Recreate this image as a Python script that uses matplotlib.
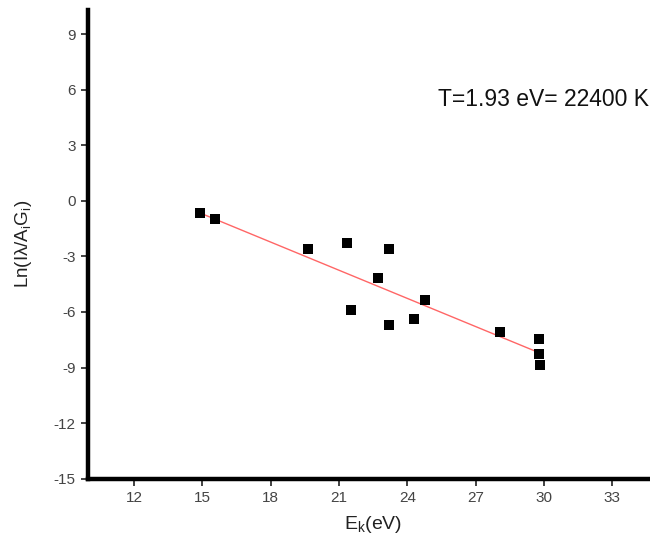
import matplotlib
matplotlib.use("Agg")
import matplotlib.pyplot as plt
import numpy as np

plt.rcParams['font.family'] = ['Liberation Sans', 'DejaVu Sans']
plt.rcParams['mathtext.default'] = 'regular'
plt.rcParams['axes.unicode_minus'] = False

# Data
energy_ev = [14.88, 15.58, 19.64, 21.36, 23.18, 22.71, 24.76, 21.51, 23.18, 24.29, 28.05, 29.78, 29.78, 29.81]
ln_values = [-0.67, -0.99, -2.61, -2.29, -2.61, -4.18, -5.35, -5.92, -6.70, -6.37, -7.09, -7.45, -8.28, -8.86]
fit_slope = -0.507
fit_intercept = 6.90
fit_range = [14.88, 29.81]
x_ticks = [12, 15, 18, 21, 24, 27, 30, 33]
y_ticks = [-15, -12, -9, -6, -3, 0, 3, 6, 9]
annotation = "T=1.93 eV= 22400 K"

fig = plt.figure(figsize=(6.5, 5.46), dpi=100)
W, H = 650, 546
left, right, top, bottom = 88.3, 658, 10, 478.7
ax = fig.add_axes([left / W, (H - bottom) / H, (right - left) / W, (bottom - top) / H])
ax.set_xlim(10, 35)
ax.set_ylim(-15, 10.3)

ax.scatter(energy_ev, ln_values, marker='s', s=60, color='black', zorder=3, linewidths=0)
fx = np.array(fit_range)
ax.plot(fx, fit_slope * fx + fit_intercept, color='#ff6666', lw=1.0, zorder=2)

ax.set_xticks(x_ticks)
ax.set_yticks(y_ticks)
ax.tick_params(direction='out', length=5, width=1.3, color='#333333',
               labelcolor='#444444', labelsize=11, pad=4)
for side in ['top', 'right']:
    ax.spines[side].set_visible(False)
for side in ['left', 'bottom']:
    ax.spines[side].set_linewidth(3.2)
    ax.spines[side].set_color('black')

ax.set_xlabel('E$_k$(eV)', fontsize=14, color='#222222', labelpad=6)
ax.set_ylabel('Ln(Iλ/A$_i$G$_i$)', fontsize=13.5, color='#222222', labelpad=14)

ax.text(438 / W, (H - 100) / H, annotation, transform=fig.transFigure,
        fontsize=16.5, color='#111111', va='center', ha='left')

fig.savefig('out.png', dpi=100)
